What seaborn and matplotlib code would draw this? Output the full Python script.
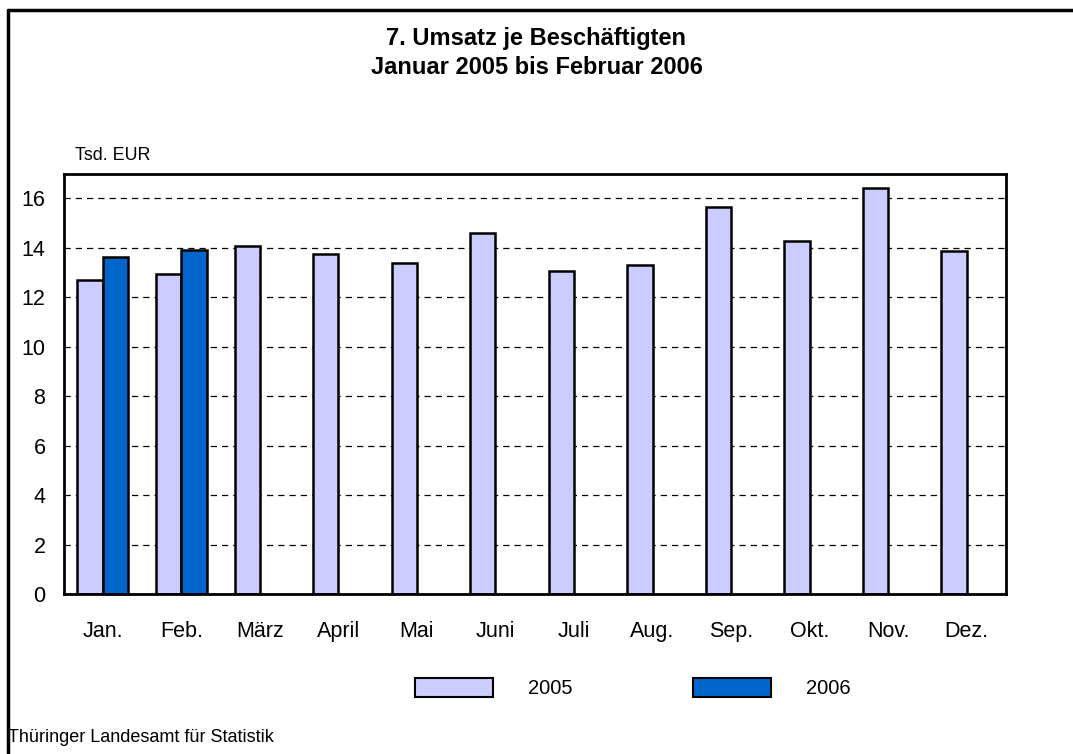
import matplotlib
matplotlib.use("Agg")
import matplotlib.pyplot as plt
import pandas as pd
import seaborn as sns
from matplotlib.lines import Line2D

# ── Data ─────────────────────────────────────────────────────────────────────
MONTHS = ["Jan.", "Feb.", "März", "April", "Mai", "Juni", "Juli",
          "Aug.", "Sep.", "Okt.", "Nov.", "Dez."]
UMSATZ_2005 = [12.70, 12.92, 14.07, 13.76, 13.40, 14.59, 13.07,
               13.31, 15.66, 14.27, 16.41, 13.87]
UMSATZ_2006 = [13.63, 13.91, None, None, None, None, None,
               None, None, None, None, None]
YEARS = ["2005", "2006"]
COLORS = ["#CCCCFF", "#0066CC"]

df = pd.DataFrame({
    "Monat": MONTHS * 2,
    "Jahr": ["2005"] * len(MONTHS) + ["2006"] * len(MONTHS),
    "Wert": UMSATZ_2005 + UMSATZ_2006,
})

# ── Style ────────────────────────────────────────────────────────────────────
sns.set_theme(style="white")
plt.rcParams["font.family"] = ["Liberation Sans", "DejaVu Sans"]
plt.rcParams["text.color"] = "black"

fig = plt.figure(figsize=(10.73, 7.54), dpi=100)
ax = fig.add_axes([63.5 / 1073, 1 - 594 / 754, (1006 - 63.5) / 1073, (594 - 173.5) / 754])

sns.barplot(data=df, x="Monat", y="Wert", hue="Jahr", hue_order=YEARS,
            palette=COLORS, width=0.645, edgecolor="black", linewidth=1.8,
            saturation=1, ax=ax, legend=False)

ax.set_ylim(0, 17)
ax.set_xlim(-0.5, 11.5)
ax.set_yticks(range(0, 17, 2))
ax.yaxis.grid(True, linestyle=(0, (5, 4)), color="black", linewidth=0.9)
ax.set_axisbelow(True)
ax.set_xlabel("")
ax.set_ylabel("")
ax.tick_params(axis="both", length=0, labelsize=15.5, colors="black")
ax.tick_params(axis="x", pad=19.5)
ax.tick_params(axis="y", pad=13)
for sp in ax.spines.values():
    sp.set_visible(True)
    sp.set_color("black")
    sp.set_linewidth(2)

# ── Texts ────────────────────────────────────────────────────────────────────
fig.text(0.5, 1 - 38 / 754, "7. Umsatz je Beschäftigten", ha="center", va="center",
         fontsize=17, fontweight="bold")
fig.text(0.5, 1 - 67 / 754, "Januar 2005 bis Februar 2006", ha="center", va="center",
         fontsize=17, fontweight="bold")
fig.text(75 / 1073, 1 - 155 / 754, "Tsd. EUR", ha="left", va="center", fontsize=12.9)
fig.text(8 / 1073, 1 - 738 / 754, "Thüringer Landesamt für Statistik",
         ha="left", va="center", fontsize=13)

# ── Legend ───────────────────────────────────────────────────────────────────
handles = [plt.Rectangle((0, 0), 1, 1, facecolor=c, edgecolor="black", linewidth=1.5)
           for c in COLORS]
fig.legend(handles, YEARS, loc="center", bbox_to_anchor=(633 / 1073, 1 - 688 / 754),
           ncol=2, frameon=False, fontsize=14.5, handlelength=3.85, handleheight=1.1,
           handletextpad=1.75, columnspacing=6.0)

# ── Outer frame (left + top edges) ───────────────────────────────────────────
fig.add_artist(Line2D([8 / 1073, 8 / 1073], [0, 1 - 10 / 754], transform=fig.transFigure,
                      color="black", linewidth=2.5))
fig.add_artist(Line2D([8 / 1073, 1], [1 - 10 / 754, 1 - 10 / 754], transform=fig.transFigure,
                      color="black", linewidth=2.5))

fig.savefig("out.png", dpi=100)
